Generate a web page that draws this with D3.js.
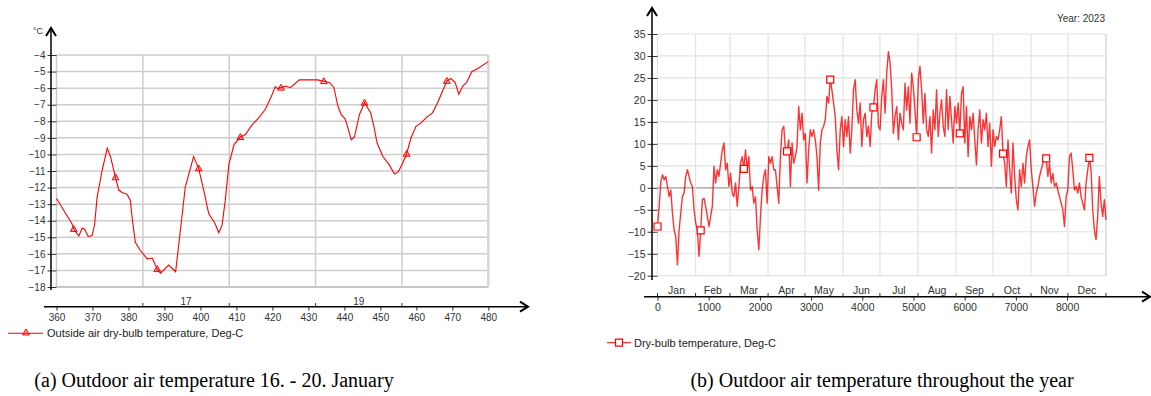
<!DOCTYPE html>
<html>
<head>
<meta charset="utf-8">
<script src="https://cdn.jsdelivr.net/npm/d3@7"></script>
<style>
body { margin: 0; background: #fff; }
svg { display: block; font-family: "Liberation Sans", Arial, sans-serif; }
.tick text { fill: #333; }
.tick line { stroke: #333; }
</style>
</head>
<body>
<svg id="chart" width="1151" height="396"></svg>
<script>
// ---- (a) 16. - 20. January, hour of year and temperature
const janHours = [360, 364.3, 364.8, 366.2, 367.1, 367.8, 368.8, 369.9, 370.6, 371.3,
    372.7, 374.1, 375.0, 376.4, 377.3, 378.2, 379.6, 380.5, 381.0, 381.9,
    383.3, 385.2, 386.6, 388.0, 388.9, 391.2, 393.1, 394.0, 395.8, 398.1,
    399.5, 400.9, 402.3, 404.1, 405.1, 406.0, 406.9, 407.9, 409.3, 411.1,
    412.5, 414.4, 416.2, 418.0, 419.7, 420.8, 421.5, 422.4, 423.8, 425.0,
    427.5, 429.9, 432.6, 434.3, 435.9, 437.1, 438.2, 439.1, 440.2, 441.0,
    441.9, 442.8, 444.2, 445.6, 447.3, 448.2, 449.1, 450.7, 452.5, 453.9,
    455.0, 456.2, 457.3, 458.5, 459.9, 461.3, 463.0, 464.5, 465.9, 467.3,
    468.5, 469.6, 470.8, 471.8, 472.9, 474.0, 475.4, 477.1, 480];
const janTemps = [-12.66, -14.18, -14.5, -14.93, -14.45, -14.5, -14.95, -14.9, -14.2, -12.56,
    -10.94, -9.62, -10.13, -11.38, -12.15, -12.3, -12.4, -12.76, -13.78, -15.3,
    -15.8, -16.3, -16.25, -16.92, -17.16, -16.68, -17.08, -15.4, -11.95, -10.13,
    -10.84, -12.15, -13.57, -14.18, -14.73, -14.28, -12.76, -10.63, -9.42, -8.95,
    -8.8, -8.2, -7.79, -7.29, -6.5, -5.91, -6.03, -5.97, -5.87, -5.97,
    -5.5, -5.5, -5.5, -5.58, -5.66, -5.97, -7.08, -7.59, -7.85, -8.4,
    -9.11, -8.95, -7.59, -6.88, -7.49, -8.3, -9.31, -10.13, -10.63, -11.18,
    -11.04, -10.53, -9.96, -9.01, -8.3, -8.1, -7.73, -7.49, -6.88, -6.17,
    -5.56, -5.42, -5.66, -6.37, -5.87, -5.66, -5.01, -4.81, -4.4];
const janMarkerHours = [364.8, 376.4, 388.0, 399.5, 411.1, 422.4, 434.3, 445.6, 457.3, 468.5];
const janXTicks = [360, 370, 380, 390, 400, 410, 420, 430, 440, 450, 460, 470, 480];
const janYTicks = [-4, -5, -6, -7, -8, -9, -10, -11, -12, -13, -14, -15, -16, -17, -18];
const dayStarts = [360, 384, 408, 432, 456, 480];
const dayLabels = ["", "17", "", "19", ""];

// ---- (b) whole year, evenly spaced samples from hour 0 to 8760
const yearTemps = [
    -8.8, -4.2, 1.4, 3.0, 1.8, 2.6, 0.3, -2.0, -0.5, -5.8,
    -9.6, -11.1, -17.5, -9.6, -5.8, -2.0, -1.2, 2.6, 4.1, 2.6,
    1.1, 0.3, -5.0, -8.0, -9.6, -15.6, -9.7, -2.7, -2.4, -4.2,
    -6.5, -8.8, -6.5, -4.2, 4.9, 1.1, 4.1, 2.6, 5.6, 8.6,
    10.2, 4.1, 5.6, 0.3, 3.3, -1.2, -2.0, 1.1, -4.2, 0.3,
    5.6, 7.1, 4.3, 8.6, 4.1, 7.1, -0.5, 0.3, -3.5, -2.0,
    -9.6, -14.1, -6.5, -0.5, 2.6, 4.1, -3.5, 7.1, 5.6, 7.1,
    4.1, 4.1, 0.3, -3.5, 7.1, 13.2, 14.0, 8.6, 8.3, 10.9,
    0.3, 10.2, 5.6, 7.1, 9.4, 18.5, 13.2, 17.0, 10.9, 12.4,
    1.1, 8.6, 13.2, 11.7, 13.2, 10.9, 7.1, -0.5, 10.2, 13.2,
    14.0, 15.5, 20.8, 19.3, 24.6, 22.3, 19.3, 16.2, 8.6, 4.1,
    13.2, 16.2, 9.4, 15.5, 11.7, 16.2, 7.9, 13.2, 22.3, 24.6,
    17.7, 14.7, 19.3, 9.4, 15.5, 17.0, 11.7, 14.0, 9.4, 17.0,
    18.3, 22.3, 24.6, 14.0,
    13.2, 20.8, 24.6, 17.0, 26.1, 31.0, 28.4, 22.3, 12.4, 16.2,
    18.5, 10.9, 17.0, 14.7, 13.2, 23.8, 17.7, 23.0, 14.7, 26.1,
    23.0, 17.7, 11.5, 24.6, 27.6, 22.3, 14.7, 21.5, 13.2, 11.7,
    16.2, 7.9, 17.7, 13.2, 22.3, 11.7, 17.0, 20.0, 14.0, 11.7,
    22.3, 13.2, 20.8, 15.5, 10.2, 18.5, 14.7, 19.3, 12.4, 21.5,
    23.0, 10.2, 18.5, 7.1, 16.2, 13.2, 17.0, 10.9, 5.2, 13.2,
    17.7, 10.2, 15.5, 13.2, 17.0, 9.4, 14.7, 4.9, 13.2, 9.4,
    11.7, 10.9, 13.2, 16.2, 7.8, 5.6, 0.3, 10.9, 4.1, -1.2,
    10.2, 2.6, -2.7, -5.0, 4.1, 0.3, 5.6, 1.1, 7.1, 9.4,
    10.9, 4.1, 0.3, -4.2, -1.2, 0.3, 2.6, 4.1, 5.6, 7.1,
    6.7, 2.6, 5.6, 1.1, 3.3, 0.3, 1.1, -0.5, -2.0, -3.5,
    -5.0, -8.8, -2.0, -0.5, 7.1, 7.9, 4.1, -0.5, 0.3, -1.2,
    1.1, -2.0, -3.5, -5.0, 1.1, 4.1, 6.8, 4.1, -5.0, -9.6,
    -11.8, -6.5, 2.6, -3.5, -6.5, -2.7, -7.3];
const yearMarkerEvery = 26;
const yearXTicks = [0, 1000, 2000, 3000, 4000, 5000, 6000, 7000, 8000];
const yearYTicks = [35, 30, 25, 20, 15, 10, 5, 0, -5, -10, -15, -20];
const monthNames = ["Jan", "Feb", "Mar", "Apr", "May", "Jun", "Jul", "Aug", "Sep", "Oct", "Nov", "Dec"];
const monthStarts = [0, 744, 1416, 2160, 2880, 3624, 4344, 5088, 5832, 6552, 7296, 8016, 8760];

const svg = d3.select("#chart");
const red = "#ff0000";

// Open chevron arrow head at the end of an axis line
function arrowHead(x, y, dir) {
    const d = dir === "up"
        ? `M${x - 5},${y + 8} L${x},${y} L${x + 5},${y + 8}`
        : `M${x - 8},${y - 5} L${x},${y} L${x - 8},${y + 5}`;
    svg.append("path").attr("d", d).attr("fill", "none")
        .attr("stroke", "#000").attr("stroke-width", 2);
}

// =================== (a) ===================
const xL = d3.scaleLinear().domain([360, 480]).range([56.5, 488.3]);
const yL = d3.scaleLinear().domain([-4, -18]).range([55, 287]);

const gridL = svg.append("g");
gridL.selectAll(".h").data(janYTicks).enter().append("line")
    .attr("x1", xL(360)).attr("x2", xL(480))
    .attr("y1", d => yL(d)).attr("y2", d => yL(d))
    .attr("stroke", d => d === -18 ? "#b5b5b5" : "#cdcdcd").attr("stroke-width", 1.5);
gridL.selectAll(".v").data(dayStarts).enter().append("line")
    .attr("x1", d => xL(d)).attr("x2", d => xL(d))
    .attr("y1", yL(-4)).attr("y2", yL(-18))
    .attr("stroke", d => d === 480 ? "#d6d6d6" : "#cdcdcd")
    .attr("stroke-width", d => d === 480 ? 2.5 : 1.5);

// y axis
const yAxisL = svg.append("g")
    .attr("transform", `translate(${xL(360)},0)`)
    .call(d3.axisLeft(yL).tickValues(janYTicks).tickSize(9).tickPadding(2))
    .attr("font-size", 10);
yAxisL.select(".domain").remove();
svg.append("line").attr("x1", 51).attr("x2", 51).attr("y1", 28).attr("y2", 290)
    .attr("stroke", "#000").attr("stroke-width", 1.5);
arrowHead(51, 28, "up");
svg.append("text").attr("x", 38).attr("y", 34).attr("text-anchor", "middle")
    .attr("font-size", 9).attr("fill", "#333").text("°C");

// x axis
const xAxisL = svg.append("g")
    .attr("transform", "translate(0,306.7)")
    .call(d3.axisBottom(xL).tickValues(janXTicks).tickSize(4).tickPadding(3))
    .attr("font-size", 10);
xAxisL.select(".domain").remove();
svg.append("line").attr("x1", 44).attr("x2", 528).attr("y1", 306.7).attr("y2", 306.7)
    .attr("stroke", "#000").attr("stroke-width", 1.5);
arrowHead(528, 306.7, "right");
svg.append("g").selectAll("line").data(dayStarts.slice(1, -1)).enter().append("line")
    .attr("x1", d => xL(d)).attr("x2", d => xL(d)).attr("y1", 303).attr("y2", 306.7)
    .attr("stroke", "#333");
svg.append("g").selectAll("text").data(dayLabels).enter().append("text")
    .attr("x", (d, i) => xL((dayStarts[i] + dayStarts[i + 1]) / 2))
    .attr("y", 304.5).attr("text-anchor", "middle").attr("font-size", 10).attr("fill", "#333")
    .text(d => d);

// series
const janLine = d3.line().x((d, i) => xL(janHours[i])).y(d => yL(d));
svg.append("path").datum(janTemps).attr("d", janLine)
    .attr("fill", "none").attr("stroke", red).attr("stroke-width", 1.1);
const tri = d3.symbol(d3.symbolTriangle, 20);
svg.append("g").selectAll("path").data(janMarkerHours).enter().append("path")
    .attr("d", tri)
    .attr("transform", h => `translate(${xL(h)},${yL(janTemps[janHours.indexOf(h)]) + 0.5})`)
    .attr("fill", "rgba(255,0,0,0.25)").attr("stroke", red).attr("stroke-width", 1);

// legend
svg.append("line").attr("x1", 8).attr("x2", 43).attr("y1", 333.3).attr("y2", 333.3)
    .attr("stroke", red).attr("stroke-width", 1.1);
svg.append("path").attr("d", tri).attr("transform", "translate(26,333)")
    .attr("fill", "rgba(255,0,0,0.25)").attr("stroke", red);
svg.append("text").attr("x", 47).attr("y", 337).attr("font-size", 11).attr("fill", "#222")
    .text("Outside air dry-bulb temperature, Deg-C");

// =================== (b) ===================
const xR = d3.scaleLinear().domain([0, 8760]).range([657.5, 1106]);
const yR = d3.scaleLinear().domain([35, -20]).range([34, 275.7]);

const gridR = svg.append("g");
gridR.selectAll(".h").data(yearYTicks).enter().append("line")
    .attr("x1", xR(0)).attr("x2", xR(8760))
    .attr("y1", d => yR(d)).attr("y2", d => yR(d))
    .attr("stroke", d => d === 0 ? "#9a9a9a" : "#e2e2e2")
    .attr("stroke-width", 1.2);
gridR.selectAll(".v").data(monthStarts).enter().append("line")
    .attr("x1", d => xR(d)).attr("x2", d => xR(d))
    .attr("y1", yR(35)).attr("y2", yR(-20))
    .attr("stroke", d => d === 8760 ? "#cfcfcf" : "#e2e2e2").attr("stroke-width", 1.2);

const yAxisR = svg.append("g")
    .attr("transform", `translate(${xR(0)},0)`)
    .call(d3.axisLeft(yR).tickValues(yearYTicks).tickSize(10).tickPadding(2))
    .attr("font-size", 10.5);
yAxisR.select(".domain").remove();
svg.append("line").attr("x1", 652).attr("x2", 652).attr("y1", 8).attr("y2", 280)
    .attr("stroke", "#000").attr("stroke-width", 1.5);
arrowHead(652, 8, "up");

const xAxisR = svg.append("g")
    .attr("transform", "translate(0,296.7)")
    .call(d3.axisBottom(xR).tickValues(yearXTicks).tickFormat(d3.format("d")).tickSize(4).tickPadding(3))
    .attr("font-size", 10.5);
xAxisR.select(".domain").remove();
svg.append("line").attr("x1", 644).attr("x2", 1150).attr("y1", 296.7).attr("y2", 296.7)
    .attr("stroke", "#000").attr("stroke-width", 1.5);
arrowHead(1150, 296.7, "right");
svg.append("g").selectAll("line").data(monthStarts).enter().append("line")
    .attr("x1", d => xR(d)).attr("x2", d => xR(d)).attr("y1", 293).attr("y2", 296.7)
    .attr("stroke", "#333");
svg.append("g").selectAll("text").data(monthNames).enter().append("text")
    .attr("x", (d, i) => xR((monthStarts[i] + monthStarts[i + 1]) / 2))
    .attr("y", 294).attr("text-anchor", "middle").attr("font-size", 10.5).attr("fill", "#333")
    .text(d => d);

svg.append("text").attr("x", 1105).attr("y", 22).attr("text-anchor", "end")
    .attr("font-size", 10).attr("fill", "#333").text("Year: 2023");

const step = 8760 / (yearTemps.length - 1);
const yearLine = d3.line().x((d, i) => xR(i * step)).y(d => yR(d));
svg.append("path").datum(yearTemps).attr("d", yearLine)
    .attr("fill", "none").attr("stroke", red).attr("stroke-width", 1.4).attr("stroke-opacity", 0.8)
    .attr("stroke-linejoin", "round");
const sq = d3.symbol(d3.symbolSquare, 49);
svg.append("g").selectAll("path")
    .data(yearTemps.map((v, i) => [i, v]).filter(d => d[0] % yearMarkerEvery === 0))
    .enter().append("path")
    .attr("d", sq)
    .attr("transform", d => `translate(${xR(d[0] * step)},${yR(d[1])})`)
    .attr("fill", "#fff").attr("stroke", red).attr("stroke-width", 1.2);

svg.append("line").attr("x1", 607).attr("x2", 631).attr("y1", 342.7).attr("y2", 342.7)
    .attr("stroke", red).attr("stroke-width", 1);
svg.append("path").attr("d", sq).attr("transform", "translate(619,342.7)")
    .attr("fill", "#fff").attr("stroke", red).attr("stroke-width", 1.2);
svg.append("text").attr("x", 634).attr("y", 346.5).attr("font-size", 11).attr("fill", "#222")
    .text("Dry-bulb temperature, Deg-C");

// =================== captions ===================
svg.append("text").attr("x", 214).attr("y", 387).attr("text-anchor", "middle")
    .attr("font-family", "'Liberation Serif', 'DejaVu Serif', serif").attr("font-size", 20)
    .text("(a) Outdoor air temperature 16. - 20. January");
svg.append("text").attr("x", 882).attr("y", 387).attr("text-anchor", "middle")
    .attr("font-family", "'Liberation Serif', 'DejaVu Serif', serif").attr("font-size", 20)
    .text("(b) Outdoor air temperature throughout the year");
</script>
</body>
</html>
